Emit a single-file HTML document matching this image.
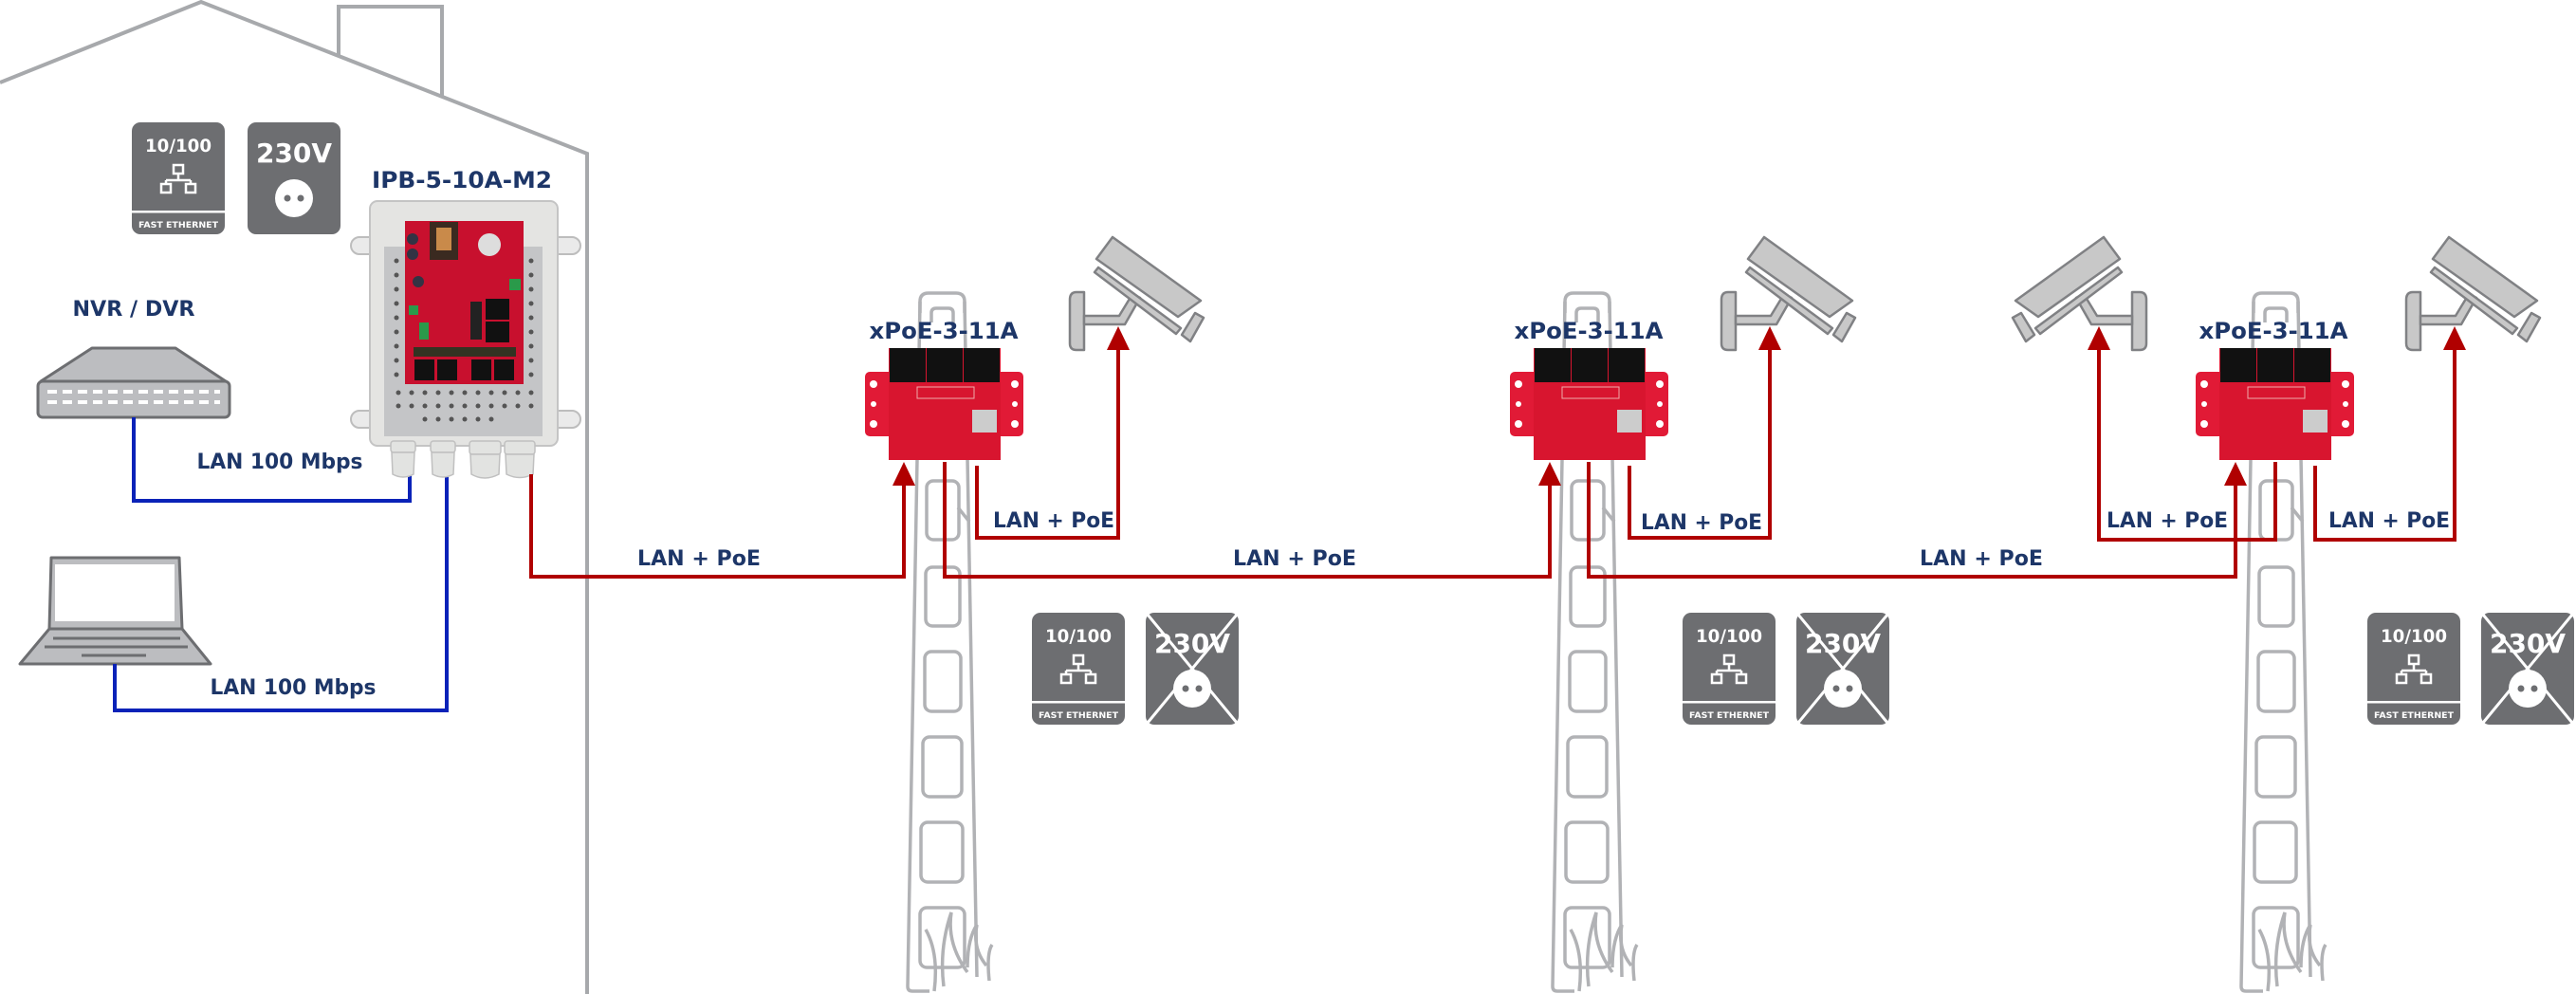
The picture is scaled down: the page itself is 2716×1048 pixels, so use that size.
<!DOCTYPE html>
<html><head><meta charset="utf-8"><style>
html,body{margin:0;padding:0;background:#fff}
svg{display:block}
text{font-family:"DejaVu Sans","Liberation Sans",sans-serif;font-weight:bold}
</style></head><body>
<svg width="2716" height="1048" viewBox="0 0 2716 1048" xmlns="http://www.w3.org/2000/svg">
<rect width="2716" height="1048" fill="#fff"/>
<!-- house -->
<polyline points="0,87 212,2 619,162 619,1048" fill="none" stroke="#a7a9ac" stroke-width="4"/>
<polyline points="357,59 357,7 466,7 466,101" fill="none" stroke="#a7a9ac" stroke-width="4"/>

<!-- poles -->
<g id="pole1" fill="none" stroke="#b1b2b5" stroke-width="3.5">
 <path d="M970,330 L970,318 Q970,309 979,309 L1008,309 Q1017,309 1017,318 L1017,330"/>
 <path d="M982,340 L982,330 Q982,325 987,325 L1000,325 Q1005,325 1005,330 L1005,340"/>
 <path d="M970,318 L957,1040 Q957,1045 962,1045 L980,1045"/>
 <path d="M1017,318 L1030,1030"/>
 <rect x="976" y="420" width="36" height="60" rx="7"/>
 <rect x="977" y="507" width="34" height="62" rx="7"/>
 <path d="M1010,535 L1022,550"/>
 <rect x="976" y="598" width="36" height="62" rx="7"/>
 <rect x="975" y="687" width="38" height="63" rx="7"/>
 <rect x="973" y="777" width="41" height="63" rx="7"/>
 <rect x="971" y="867" width="44" height="63" rx="7"/>
 <rect x="970" y="957" width="47" height="63" rx="7"/>
 <path d="M976,980 Q990,1005 985,1045"/>
 <path d="M995,1040 Q990,1000 1003,962 Q998,995 1020,1025"/>
 <path d="M1020,1020 Q1020,990 1030,975 Q1025,1000 1040,1018"/>
 <path d="M1043,1034 Q1040,1005 1046,996"/>
</g>
<g fill="none" stroke="#b1b2b5" stroke-width="3.5" transform="translate(680,0)">
 <path d="M970,330 L970,318 Q970,309 979,309 L1008,309 Q1017,309 1017,318 L1017,330"/>
 <path d="M982,340 L982,330 Q982,325 987,325 L1000,325 Q1005,325 1005,330 L1005,340"/>
 <path d="M970,318 L957,1040 Q957,1045 962,1045 L980,1045"/>
 <path d="M1017,318 L1030,1030"/>
 <rect x="976" y="420" width="36" height="60" rx="7"/>
 <rect x="977" y="507" width="34" height="62" rx="7"/>
 <path d="M1010,535 L1022,550"/>
 <rect x="976" y="598" width="36" height="62" rx="7"/>
 <rect x="975" y="687" width="38" height="63" rx="7"/>
 <rect x="973" y="777" width="41" height="63" rx="7"/>
 <rect x="971" y="867" width="44" height="63" rx="7"/>
 <rect x="970" y="957" width="47" height="63" rx="7"/>
 <path d="M976,980 Q990,1005 985,1045"/>
 <path d="M995,1040 Q990,1000 1003,962 Q998,995 1020,1025"/>
 <path d="M1020,1020 Q1020,990 1030,975 Q1025,1000 1040,1018"/>
 <path d="M1043,1034 Q1040,1005 1046,996"/>
</g>
<g fill="none" stroke="#b1b2b5" stroke-width="3.5" transform="translate(1406,0)">
 <path d="M970,330 L970,318 Q970,309 979,309 L1008,309 Q1017,309 1017,318 L1017,330"/>
 <path d="M982,340 L982,330 Q982,325 987,325 L1000,325 Q1005,325 1005,330 L1005,340"/>
 <path d="M970,318 L957,1040 Q957,1045 962,1045 L980,1045"/>
 <path d="M1017,318 L1030,1030"/>
 <rect x="976" y="420" width="36" height="60" rx="7"/>
 <rect x="977" y="507" width="34" height="62" rx="7"/>
 <path d="M1010,535 L1022,550"/>
 <rect x="976" y="598" width="36" height="62" rx="7"/>
 <rect x="975" y="687" width="38" height="63" rx="7"/>
 <rect x="973" y="777" width="41" height="63" rx="7"/>
 <rect x="971" y="867" width="44" height="63" rx="7"/>
 <rect x="970" y="957" width="47" height="63" rx="7"/>
 <path d="M976,980 Q990,1005 985,1045"/>
 <path d="M995,1040 Q990,1000 1003,962 Q998,995 1020,1025"/>
 <path d="M1020,1020 Q1020,990 1030,975 Q1025,1000 1040,1018"/>
 <path d="M1043,1034 Q1040,1005 1046,996"/>
</g>

<!-- cameras -->
<g fill="#c8c8c8" stroke="#808184" stroke-width="2.5" stroke-linejoin="round">
 <g transform="translate(880,230)">
  <path d="M263,78 L255,78 Q248,78 248,86 L248,132 Q248,139 255,139 L263,139 Z"/>
  <path d="M263,103 L300,103 L314,80 L322,84 L306,112 L263,112 Z"/>
  <polygon points="276,43 293,20 386,87 362,104"/>
  <polygon points="274,57 278,52 365,116 360,122"/>
  <polygon points="366,123 380,100 389,105 375,130"/>
 </g>
 <g transform="translate(1567,230)">
  <path d="M263,78 L255,78 Q248,78 248,86 L248,132 Q248,139 255,139 L263,139 Z"/>
  <path d="M263,103 L300,103 L314,80 L322,84 L306,112 L263,112 Z"/>
  <polygon points="276,43 293,20 386,87 362,104"/>
  <polygon points="274,57 278,52 365,116 360,122"/>
  <polygon points="366,123 380,100 389,105 375,130"/>
 </g>
 <g transform="translate(2289,230)">
  <path d="M263,78 L255,78 Q248,78 248,86 L248,132 Q248,139 255,139 L263,139 Z"/>
  <path d="M263,103 L300,103 L314,80 L322,84 L306,112 L263,112 Z"/>
  <polygon points="276,43 293,20 386,87 362,104"/>
  <polygon points="274,57 278,52 365,116 360,122"/>
  <polygon points="366,123 380,100 389,105 375,130"/>
 </g>
 <g transform="translate(2511,230) scale(-1,1)">
  <path d="M263,78 L255,78 Q248,78 248,86 L248,132 Q248,139 255,139 L263,139 Z"/>
  <path d="M263,103 L300,103 L314,80 L322,84 L306,112 L263,112 Z"/>
  <polygon points="276,43 293,20 386,87 362,104"/>
  <polygon points="274,57 278,52 365,116 360,122"/>
  <polygon points="366,123 380,100 389,105 375,130"/>
 </g>
</g>

<!-- NVR -->
<g stroke="#6d6e71" stroke-width="3" stroke-linejoin="round">
 <polygon points="43,402 97,367 185,367 238,402" fill="#bcbdc0"/>
 <rect x="40" y="402" width="202" height="38" rx="5" fill="#bcbdc0"/>
</g>
<g stroke="#fff" stroke-width="4" stroke-dasharray="10,6">
 <line x1="50" y1="413" x2="232" y2="413"/>
 <line x1="50" y1="424" x2="232" y2="424"/>
</g>
<!-- laptop -->
<g stroke="#6d6e71" stroke-width="3" stroke-linejoin="round">
 <polygon points="54,588 189,588 192,663 52,663" fill="#bcbdc0"/>
 <rect x="58" y="595" width="126" height="60" fill="#fff" stroke="none"/>
 <polygon points="52,663 192,663 222,700 21,700" fill="#bcbdc0"/>
 <line x1="56" y1="673" x2="190" y2="673" stroke-width="3"/>
 <line x1="47" y1="682" x2="198" y2="682" stroke-width="3"/>
 <line x1="86" y1="691" x2="154" y2="691" stroke-width="3"/>
</g>

<!-- blue lines -->
<g fill="none" stroke="#0a22b8" stroke-width="4">
 <polyline points="141,440 141,528 432,528 432,500"/>
 <polyline points="121,700 121,749 471,749 471,500"/>
</g>

<!-- IPB enclosure -->
<g>
 <rect x="370" y="250" width="30" height="18" rx="9" fill="#eaeaea" stroke="#bdbdbd" stroke-width="2"/>
 <rect x="370" y="433" width="30" height="18" rx="9" fill="#eaeaea" stroke="#bdbdbd" stroke-width="2"/>
 <rect x="578" y="250" width="34" height="18" rx="9" fill="#eaeaea" stroke="#bdbdbd" stroke-width="2"/>
 <rect x="578" y="433" width="34" height="18" rx="9" fill="#eaeaea" stroke="#bdbdbd" stroke-width="2"/>
 <rect x="390" y="212" width="198" height="258" rx="8" fill="#e4e4e2" stroke="#c4c4c4" stroke-width="2"/>
 <rect x="405" y="260" width="167" height="200" fill="#c4c5c7"/>
 <g fill="#555">
  <circle cx="418" cy="275" r="2.5"/><circle cx="418" cy="290" r="2.5"/><circle cx="418" cy="305" r="2.5"/><circle cx="418" cy="320" r="2.5"/><circle cx="418" cy="335" r="2.5"/><circle cx="418" cy="350" r="2.5"/><circle cx="418" cy="365" r="2.5"/><circle cx="418" cy="380" r="2.5"/><circle cx="418" cy="395" r="2.5"/>
  <circle cx="560" cy="275" r="2.5"/><circle cx="560" cy="290" r="2.5"/><circle cx="560" cy="305" r="2.5"/><circle cx="560" cy="320" r="2.5"/><circle cx="560" cy="335" r="2.5"/><circle cx="560" cy="350" r="2.5"/><circle cx="560" cy="365" r="2.5"/><circle cx="560" cy="380" r="2.5"/><circle cx="560" cy="395" r="2.5"/>
  <circle cx="420" cy="414" r="2.5"/><circle cx="434" cy="414" r="2.5"/><circle cx="448" cy="414" r="2.5"/><circle cx="462" cy="414" r="2.5"/><circle cx="476" cy="414" r="2.5"/><circle cx="490" cy="414" r="2.5"/><circle cx="504" cy="414" r="2.5"/><circle cx="518" cy="414" r="2.5"/><circle cx="532" cy="414" r="2.5"/><circle cx="546" cy="414" r="2.5"/><circle cx="560" cy="414" r="2.5"/>
  <circle cx="420" cy="428" r="2.5"/><circle cx="434" cy="428" r="2.5"/><circle cx="448" cy="428" r="2.5"/><circle cx="462" cy="428" r="2.5"/><circle cx="476" cy="428" r="2.5"/><circle cx="490" cy="428" r="2.5"/><circle cx="504" cy="428" r="2.5"/><circle cx="518" cy="428" r="2.5"/><circle cx="532" cy="428" r="2.5"/><circle cx="546" cy="428" r="2.5"/><circle cx="560" cy="428" r="2.5"/>
  <circle cx="448" cy="442" r="2.5"/><circle cx="462" cy="442" r="2.5"/><circle cx="476" cy="442" r="2.5"/><circle cx="490" cy="442" r="2.5"/><circle cx="504" cy="442" r="2.5"/><circle cx="518" cy="442" r="2.5"/>
 </g>
 <rect x="427" y="233" width="125" height="172" fill="#c8102e"/>
 <rect x="453" y="234" width="30" height="40" fill="#3a2a20"/>
 <rect x="460" y="240" width="16" height="24" fill="#c98a4a"/>
 <circle cx="516" cy="258" r="12" fill="#ddd"/>
 <circle cx="435" cy="252" r="6" fill="#334"/><circle cx="435" cy="268" r="6" fill="#334"/>
 <circle cx="441" cy="297" r="6" fill="#334"/>
 <rect x="537" y="294" width="12" height="12" fill="#2a9a4a"/>
 <rect x="431" y="322" width="10" height="10" fill="#2a9a4a"/>
 <rect x="442" y="340" width="10" height="18" fill="#2a9a4a"/>
 <rect x="512" y="315" width="25" height="22" fill="#111"/>
 <rect x="512" y="339" width="25" height="22" fill="#111"/>
 <rect x="496" y="318" width="12" height="40" fill="#222"/>
 <rect x="436" y="366" width="108" height="10" fill="#332"/>
 <rect x="437" y="379" width="21" height="22" fill="#111"/>
 <rect x="461" y="379" width="21" height="22" fill="#111"/>
 <rect x="497" y="379" width="21" height="22" fill="#111"/>
 <rect x="521" y="379" width="21" height="22" fill="#111"/>
 <g fill="#e2e3e1" stroke="#c0c0c0" stroke-width="1.5">
  <rect x="412" y="465" width="26" height="12" rx="3"/>
  <path d="M413,477 L437,477 L436,500 Q425,506 414,500 Z"/>
  <rect x="454" y="465" width="26" height="12" rx="3"/>
  <path d="M455,477 L479,477 L478,500 Q467,506 456,500 Z"/>
  <rect x="495" y="465" width="33" height="14" rx="3"/>
  <path d="M496,479 L527,479 L526,500 Q511,508 497,500 Z"/>
  <rect x="532" y="465" width="32" height="14" rx="3"/>
  <path d="M533,479 L563,479 L562,500 Q548,507 534,500 Z"/>
 </g>
</g>

<!-- xPoE boards -->
<g id="b1">
 <rect x="912" y="392" width="167" height="68" rx="5" fill="#e11a36"/>
 <rect x="937" y="367" width="118" height="118" fill="#d8152f"/>
 <rect x="938" y="367" width="38" height="36" fill="#111"/><rect x="977" y="367" width="38" height="36" fill="#111"/><rect x="1016" y="367" width="38" height="36" fill="#111"/>
 <circle cx="921" cy="405" r="4" fill="#fff"/><circle cx="921" cy="426" r="3" fill="#fff"/><circle cx="921" cy="447" r="4" fill="#fff"/>
 <circle cx="1070" cy="405" r="4" fill="#fff"/><circle cx="1070" cy="426" r="3" fill="#fff"/><circle cx="1070" cy="447" r="4" fill="#fff"/>
 <rect x="1025" y="432" width="26" height="24" fill="#ccc"/>
 <rect x="967" y="408" width="60" height="12" fill="none" stroke="#eaa" stroke-width="1"/>
</g>
<g transform="translate(680,0)">
 <rect x="912" y="392" width="167" height="68" rx="5" fill="#e11a36"/>
 <rect x="937" y="367" width="118" height="118" fill="#d8152f"/>
 <rect x="938" y="367" width="38" height="36" fill="#111"/><rect x="977" y="367" width="38" height="36" fill="#111"/><rect x="1016" y="367" width="38" height="36" fill="#111"/>
 <circle cx="921" cy="405" r="4" fill="#fff"/><circle cx="921" cy="426" r="3" fill="#fff"/><circle cx="921" cy="447" r="4" fill="#fff"/>
 <circle cx="1070" cy="405" r="4" fill="#fff"/><circle cx="1070" cy="426" r="3" fill="#fff"/><circle cx="1070" cy="447" r="4" fill="#fff"/>
 <rect x="1025" y="432" width="26" height="24" fill="#ccc"/>
 <rect x="967" y="408" width="60" height="12" fill="none" stroke="#eaa" stroke-width="1"/>
</g>
<g transform="translate(1403,0)">
 <rect x="912" y="392" width="167" height="68" rx="5" fill="#e11a36"/>
 <rect x="937" y="367" width="118" height="118" fill="#d8152f"/>
 <rect x="938" y="367" width="38" height="36" fill="#111"/><rect x="977" y="367" width="38" height="36" fill="#111"/><rect x="1016" y="367" width="38" height="36" fill="#111"/>
 <circle cx="921" cy="405" r="4" fill="#fff"/><circle cx="921" cy="426" r="3" fill="#fff"/><circle cx="921" cy="447" r="4" fill="#fff"/>
 <circle cx="1070" cy="405" r="4" fill="#fff"/><circle cx="1070" cy="426" r="3" fill="#fff"/><circle cx="1070" cy="447" r="4" fill="#fff"/>
 <rect x="1025" y="432" width="26" height="24" fill="#ccc"/>
 <rect x="967" y="408" width="60" height="12" fill="none" stroke="#eaa" stroke-width="1"/>
</g>

<!-- red lines -->
<g fill="none" stroke="#b00000" stroke-width="4">
 <polyline points="560,500 560,608 953,608 953,505"/>
 <polyline points="996,487 996,608 1634,608 1634,505"/>
 <polyline points="1030,491 1030,567 1179,567 1179,362"/>
 <polyline points="1675,487 1675,608 2357,608 2357,505"/>
 <polyline points="1718,491 1718,567 1866,567 1866,362"/>
 <polyline points="2399,487 2399,569 2213,569 2213,362"/>
 <polyline points="2441,491 2441,569 2588,569 2588,362"/>
</g>
<g fill="#b00000">
 <polygon points="953,487 941,512 965,512"/>
 <polygon points="1634,487 1622,512 1646,512"/>
 <polygon points="2357,487 2345,512 2369,512"/>
 <polygon points="1179,344 1167,369 1191,369"/>
 <polygon points="1866,344 1854,369 1878,369"/>
 <polygon points="2213,344 2201,369 2225,369"/>
 <polygon points="2588,344 2576,369 2600,369"/>
</g>

<!-- icons: house -->
<g>
 <rect x="139" y="129" width="98" height="118" rx="9" fill="#6d6e71"/>
 <text x="188" y="160" fill="#fff" font-size="19" text-anchor="middle" textLength="70" lengthAdjust="spacingAndGlyphs">10/100</text>
 <g fill="none" stroke="#fff" stroke-width="2.5"><rect x="183" y="174" width="10" height="9"/><path d="M188,183 V190 M175,190 H201 M175,190 V194 M201,190 V194"/><rect x="170" y="194" width="10" height="9"/><rect x="196" y="194" width="10" height="9"/></g>
 <rect x="139" y="222" width="98" height="2.5" fill="#fff"/>
 <text x="188" y="240" fill="#fff" font-size="8.5" text-anchor="middle" textLength="84" lengthAdjust="spacingAndGlyphs">FAST ETHERNET</text>
</g>
<g>
 <rect x="261" y="129" width="98" height="118" rx="9" fill="#6d6e71"/>
 <text x="310" y="171" fill="#fff" font-size="28" text-anchor="middle" textLength="80" lengthAdjust="spacingAndGlyphs">230V</text>
 <circle cx="310" cy="209" r="20" fill="#fff"/>
 <circle cx="303" cy="209" r="3.5" fill="#6d6e71"/><circle cx="317" cy="209" r="3.5" fill="#6d6e71"/>
</g>

<!-- unit icons -->
<g transform="translate(949,517)">
 <rect x="139" y="129" width="98" height="118" rx="9" fill="#6d6e71"/>
 <text x="188" y="160" fill="#fff" font-size="19" text-anchor="middle" textLength="70" lengthAdjust="spacingAndGlyphs">10/100</text>
 <g fill="none" stroke="#fff" stroke-width="2.5"><rect x="183" y="174" width="10" height="9"/><path d="M188,183 V190 M175,190 H201 M175,190 V194 M201,190 V194"/><rect x="170" y="194" width="10" height="9"/><rect x="196" y="194" width="10" height="9"/></g>
 <rect x="139" y="222" width="98" height="2.5" fill="#fff"/>
 <text x="188" y="240" fill="#fff" font-size="8.5" text-anchor="middle" textLength="84" lengthAdjust="spacingAndGlyphs">FAST ETHERNET</text>
</g>
<g transform="translate(947,517)">
 <rect x="261" y="129" width="98" height="118" rx="9" fill="#6d6e71"/>
 <text x="310" y="171" fill="#fff" font-size="28" text-anchor="middle" textLength="80" lengthAdjust="spacingAndGlyphs">230V</text>
 <circle cx="310" cy="209" r="20" fill="#fff"/>
 <circle cx="303" cy="209" r="3.5" fill="#6d6e71"/><circle cx="317" cy="209" r="3.5" fill="#6d6e71"/>
 <path d="M263,131 L357,245 M357,131 L263,245" stroke="#fff" stroke-width="3"/>
</g>
<g transform="translate(1635,517)">
 <rect x="139" y="129" width="98" height="118" rx="9" fill="#6d6e71"/>
 <text x="188" y="160" fill="#fff" font-size="19" text-anchor="middle" textLength="70" lengthAdjust="spacingAndGlyphs">10/100</text>
 <g fill="none" stroke="#fff" stroke-width="2.5"><rect x="183" y="174" width="10" height="9"/><path d="M188,183 V190 M175,190 H201 M175,190 V194 M201,190 V194"/><rect x="170" y="194" width="10" height="9"/><rect x="196" y="194" width="10" height="9"/></g>
 <rect x="139" y="222" width="98" height="2.5" fill="#fff"/>
 <text x="188" y="240" fill="#fff" font-size="8.5" text-anchor="middle" textLength="84" lengthAdjust="spacingAndGlyphs">FAST ETHERNET</text>
</g>
<g transform="translate(1633,517)">
 <rect x="261" y="129" width="98" height="118" rx="9" fill="#6d6e71"/>
 <text x="310" y="171" fill="#fff" font-size="28" text-anchor="middle" textLength="80" lengthAdjust="spacingAndGlyphs">230V</text>
 <circle cx="310" cy="209" r="20" fill="#fff"/>
 <circle cx="303" cy="209" r="3.5" fill="#6d6e71"/><circle cx="317" cy="209" r="3.5" fill="#6d6e71"/>
 <path d="M263,131 L357,245 M357,131 L263,245" stroke="#fff" stroke-width="3"/>
</g>
<g transform="translate(2357,517)">
 <rect x="139" y="129" width="98" height="118" rx="9" fill="#6d6e71"/>
 <text x="188" y="160" fill="#fff" font-size="19" text-anchor="middle" textLength="70" lengthAdjust="spacingAndGlyphs">10/100</text>
 <g fill="none" stroke="#fff" stroke-width="2.5"><rect x="183" y="174" width="10" height="9"/><path d="M188,183 V190 M175,190 H201 M175,190 V194 M201,190 V194"/><rect x="170" y="194" width="10" height="9"/><rect x="196" y="194" width="10" height="9"/></g>
 <rect x="139" y="222" width="98" height="2.5" fill="#fff"/>
 <text x="188" y="240" fill="#fff" font-size="8.5" text-anchor="middle" textLength="84" lengthAdjust="spacingAndGlyphs">FAST ETHERNET</text>
</g>
<g transform="translate(2355,517)">
 <rect x="261" y="129" width="98" height="118" rx="9" fill="#6d6e71"/>
 <text x="310" y="171" fill="#fff" font-size="28" text-anchor="middle" textLength="80" lengthAdjust="spacingAndGlyphs">230V</text>
 <circle cx="310" cy="209" r="20" fill="#fff"/>
 <circle cx="303" cy="209" r="3.5" fill="#6d6e71"/><circle cx="317" cy="209" r="3.5" fill="#6d6e71"/>
 <path d="M263,131 L357,245 M357,131 L263,245" stroke="#fff" stroke-width="3"/>
</g>

<!-- labels -->
<g fill="#1d3668" text-anchor="middle">
 <text x="487" y="198" font-size="24" textLength="190" lengthAdjust="spacingAndGlyphs">IPB-5-10A-M2</text>
 <text x="141" y="333" font-size="22" textLength="129" lengthAdjust="spacingAndGlyphs">NVR / DVR</text>
 <text x="295" y="494" font-size="22" textLength="175" lengthAdjust="spacingAndGlyphs">LAN 100 Mbps</text>
 <text x="309" y="732" font-size="22" textLength="175" lengthAdjust="spacingAndGlyphs">LAN 100 Mbps</text>
 <text x="995" y="357" font-size="24" textLength="157" lengthAdjust="spacingAndGlyphs">xPoE-3-11A</text>
 <text x="1675" y="357" font-size="24" textLength="157" lengthAdjust="spacingAndGlyphs">xPoE-3-11A</text>
 <text x="2397" y="357" font-size="24" textLength="157" lengthAdjust="spacingAndGlyphs">xPoE-3-11A</text>
 <text x="737" y="596" font-size="22" textLength="130" lengthAdjust="spacingAndGlyphs">LAN + PoE</text>
 <text x="1365" y="596" font-size="22" textLength="130" lengthAdjust="spacingAndGlyphs">LAN + PoE</text>
 <text x="2089" y="596" font-size="22" textLength="130" lengthAdjust="spacingAndGlyphs">LAN + PoE</text>
 <text x="1111" y="556" font-size="22" textLength="128" lengthAdjust="spacingAndGlyphs">LAN + PoE</text>
 <text x="1794" y="558" font-size="22" textLength="128" lengthAdjust="spacingAndGlyphs">LAN + PoE</text>
 <text x="2285" y="556" font-size="22" textLength="128" lengthAdjust="spacingAndGlyphs">LAN + PoE</text>
 <text x="2519" y="556" font-size="22" textLength="128" lengthAdjust="spacingAndGlyphs">LAN + PoE</text>
</g>
</svg>
</body></html>
